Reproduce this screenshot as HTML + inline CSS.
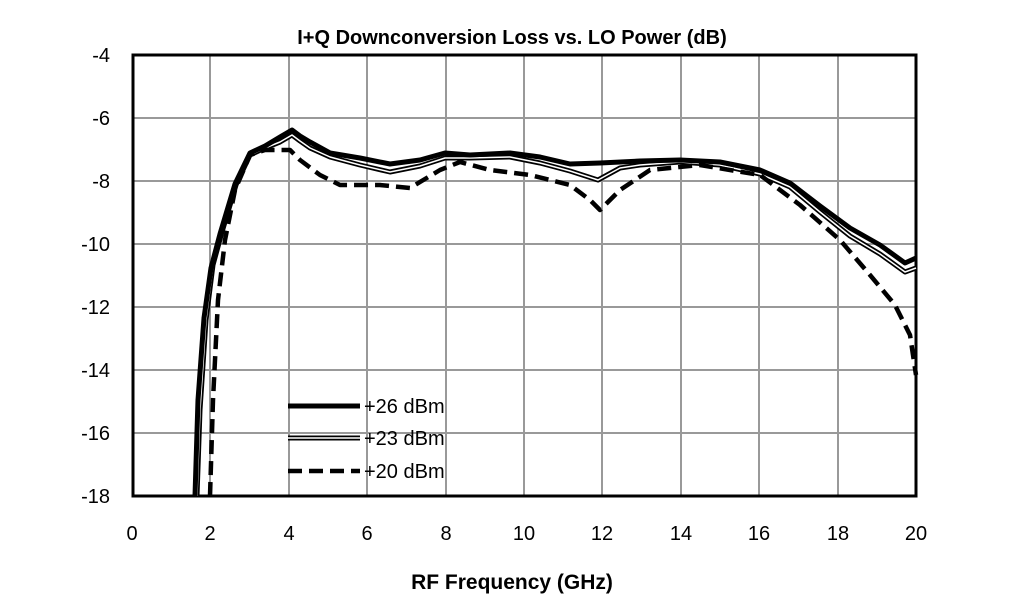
<!DOCTYPE html>
<html><head><meta charset="utf-8"><style>body{margin:0;background:#fff}svg{display:block;font-family:"Liberation Sans",sans-serif}</style></head><body>
<svg width="1024" height="614" viewBox="0 0 1024 614">
<rect width="1024" height="614" fill="#fff"/>
<text x="512" y="44" text-anchor="middle" font-size="20" font-weight="bold">I+Q Downconversion Loss vs. LO Power (dB)</text>
<g stroke="#999" stroke-width="2">
<line x1="210" y1="55" x2="210" y2="496"/><line x1="289" y1="55" x2="289" y2="496"/><line x1="367" y1="55" x2="367" y2="496"/><line x1="446" y1="55" x2="446" y2="496"/><line x1="524" y1="55" x2="524" y2="496"/><line x1="602" y1="55" x2="602" y2="496"/><line x1="681" y1="55" x2="681" y2="496"/><line x1="759" y1="55" x2="759" y2="496"/><line x1="838" y1="55" x2="838" y2="496"/>
<line x1="132" y1="118" x2="916" y2="118"/><line x1="132" y1="181" x2="916" y2="181"/><line x1="132" y1="244" x2="916" y2="244"/><line x1="132" y1="307" x2="916" y2="307"/><line x1="132" y1="370" x2="916" y2="370"/><line x1="132" y1="433" x2="916" y2="433"/>
</g>
<rect x="133" y="55" width="783" height="441" fill="none" stroke="#000" stroke-width="3"/>
<g font-size="20" text-anchor="end">
<text x="110" y="62">-4</text><text x="110" y="125">-6</text><text x="110" y="188">-8</text><text x="110" y="251">-10</text><text x="110" y="314">-12</text><text x="110" y="377">-14</text><text x="110" y="440">-16</text><text x="110" y="503">-18</text>
</g>
<g font-size="20" text-anchor="middle">
<text x="132" y="540">0</text><text x="210" y="540">2</text><text x="289" y="540">4</text><text x="367" y="540">6</text><text x="446" y="540">8</text><text x="524" y="540">10</text><text x="602" y="540">12</text><text x="681" y="540">14</text><text x="759" y="540">16</text><text x="838" y="540">18</text><text x="916" y="540">20</text>
</g>
<text x="512" y="589" text-anchor="middle" font-size="21" font-weight="bold">RF Frequency (GHz)</text>
<g fill="none" stroke-linejoin="round">
<path d="M197,496 L200,410 L206,320 L213,265 L222,232 L236,185 L250,155 L265,148 L280,142 L292,135 L300,141 L310,148 L330,157 L360,165 L390,172 L420,166 L445,158 L470,158 L510,157 L540,163 L570,171 L598,180 L620,168 L640,165 L680,162 L720,165 L760,174 L790,187 L820,212 L850,236 L880,254 L905,272 L916,268" stroke="#000" stroke-width="5"/>
<path d="M197,496 L200,410 L206,320 L213,265 L222,232 L236,185 L250,155 L265,148 L280,142 L292,135 L300,141 L310,148 L330,157 L360,165 L390,172 L420,166 L445,158 L470,158 L510,157 L540,163 L570,171 L598,180 L620,168 L640,165 L680,162 L720,165 L760,174 L790,187 L820,212 L850,236 L880,254 L905,272 L916,268" stroke="#fff" stroke-width="1.5"/>
<path d="M195,496 L198,400 L204,318 L211,268 L220,234 L235,184 L250,153 L265,146 L280,137 L292,130 L300,136 L310,142 L330,153 L360,158 L390,164 L420,160 L445,153 L470,155 L510,153 L540,157 L570,164 L600,163 L640,161 L680,160 L720,162 L760,170 L790,183 L820,206 L850,228 L880,245 L905,263 L916,258" stroke="#000" stroke-width="5"/>
<path d="M210,496 L213,400 L218,300 L225,240 L235,190 L250,155 L265,150 L290,150 L300,160 L320,175 L340,185 L380,185 L410,188 L440,170 L460,162 L490,170 L530,175 L570,185 L590,200 L600,210 L620,190 L650,170 L700,165 L760,175 L800,205 L840,240 L870,275 L895,305 L910,335 L916,375" stroke="#000" stroke-width="4.5" stroke-dasharray="14,7"/>
</g>
<line x1="288" y1="406" x2="360" y2="406" stroke="#000" stroke-width="5"/>
<line x1="288" y1="438" x2="360" y2="438" stroke="#000" stroke-width="5"/>
<line x1="288" y1="438" x2="360" y2="438" stroke="#fff" stroke-width="1.5"/>
<line x1="288" y1="471" x2="360" y2="471" stroke="#000" stroke-width="4.5" stroke-dasharray="14,7"/>
<g font-size="20"><text x="364" y="413">+26 dBm</text><text x="364" y="445">+23 dBm</text><text x="364" y="478">+20 dBm</text></g>
</svg>
</body></html>
